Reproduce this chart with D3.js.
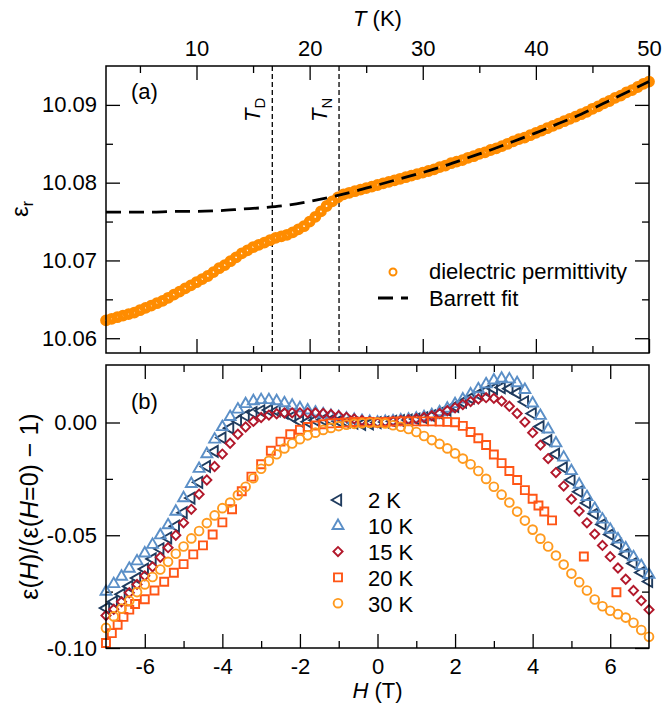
<!DOCTYPE html>
<html>
<head>
<meta charset="utf-8">
<script src="https://cdn.jsdelivr.net/npm/d3@7"></script>
<style>
  html, body { margin: 0; padding: 0; background: #fff; }
  svg { display: block; font-family: "Liberation Sans", Arial, Helvetica, sans-serif; }
</style>
</head>
<body>
<svg id="fig" width="662" height="704"></svg>
<script>
// ---------- (a) permittivity vs temperature ----------
const tempK = [
  2.0, 2.5, 3.0, 3.5, 4.0, 4.5, 5.0, 5.5, 6.0, 6.5,
  7.0, 7.5, 8.0, 8.5, 9.0, 9.5, 10.0, 10.5, 11.0, 11.5,
  12.0, 12.5, 13.0, 13.5, 14.0, 14.5, 15.0, 15.5, 16.0, 16.5,
  17.0, 17.5, 18.0, 18.5, 19.0, 19.5, 20.0, 20.5, 21.0, 21.5,
  22.0, 22.5, 23.0, 23.5, 24.0, 24.5, 25.0, 25.5, 26.0, 26.5,
  27.0, 27.5, 28.0, 28.5, 29.0, 29.5, 30.0, 30.5, 31.0, 31.5,
  32.0, 32.5, 33.0, 33.5, 34.0, 34.5, 35.0, 35.5, 36.0, 36.5,
  37.0, 37.5, 38.0, 38.5, 39.0, 39.5, 40.0, 40.5, 41.0, 41.5,
  42.0, 42.5, 43.0, 43.5, 44.0, 44.5, 45.0, 45.5, 46.0, 46.5,
  47.0, 47.5, 48.0, 48.5, 49.0, 49.5, 50.0
];
const permittivity = [
  10.0623, 10.0625, 10.0627, 10.0629, 10.0631, 10.0633, 10.0636, 10.0639, 10.0642, 10.0645,
  10.0648, 10.0652, 10.0656, 10.0660, 10.0664, 10.0668, 10.0672, 10.0676, 10.0680, 10.0685,
  10.0690, 10.0694, 10.0699, 10.0704, 10.0709, 10.0713, 10.0717, 10.0720, 10.0723, 10.0726,
  10.0729, 10.0731, 10.0733, 10.0736, 10.0740, 10.0744, 10.0750, 10.0756, 10.0763, 10.0770,
  10.0776, 10.0781, 10.0785, 10.0787, 10.0789, 10.0791, 10.0793, 10.0795, 10.0797, 10.0799,
  10.0801, 10.0803, 10.0805, 10.0807, 10.0809, 10.0811, 10.0813, 10.0815, 10.0817, 10.0820,
  10.0822, 10.0825, 10.0827, 10.0829, 10.0832, 10.0834, 10.0837, 10.0839, 10.0842, 10.0844,
  10.0847, 10.0850, 10.0853, 10.0856, 10.0858, 10.0861, 10.0864, 10.0867, 10.0870, 10.0873,
  10.0876, 10.0879, 10.0882, 10.0885, 10.0888, 10.0891, 10.0895, 10.0898, 10.0902, 10.0905,
  10.0909, 10.0912, 10.0916, 10.0919, 10.0923, 10.0927, 10.0930
];
// Barrett fit curve
const fitT = [2, 4, 6, 8, 10, 12, 14, 16, 18, 20, 22, 24, 26, 28, 30, 32, 34, 36, 38, 40, 42, 44, 46, 48, 50];
const fitEps = [
  10.0762, 10.0762, 10.0762, 10.0763, 10.0763, 10.0764, 10.0766, 10.0768, 10.0771, 10.0776,
  10.0782, 10.0789, 10.0797, 10.0805, 10.0813, 10.0822, 10.0832, 10.0842, 10.0853, 10.0864,
  10.0876, 10.0888, 10.0902, 10.0916, 10.0930
];
const transitions = [{ name: "D", T: 16.7 }, { name: "N", T: 22.6 }];
const tTicks = [10, 20, 30, 40, 50];
const tMinorTicks = [5, 15, 25, 35, 45];
const epsTicks = [10.06, 10.07, 10.08, 10.09];
const epsTickLabels = ["10.06", "10.07", "10.08", "10.09"];
const epsMinorTicks = [10.065, 10.075, 10.085];

// ---------- (b) normalised permittivity vs field ----------
const fieldT = [
  -7.0, -6.8, -6.6, -6.4, -6.2, -6.0, -5.8, -5.6, -5.4, -5.2,
  -5.0, -4.8, -4.6, -4.4, -4.2, -4.0, -3.8, -3.6, -3.4, -3.2,
  -3.0, -2.8, -2.6, -2.4, -2.2, -2.0, -1.8, -1.6, -1.4, -1.2,
  -1.0, -0.8, -0.6, -0.4, -0.2, 0.0,
  0.2, 0.4, 0.6, 0.8, 1.0, 1.2, 1.4, 1.6, 1.8, 2.0,
  2.2, 2.4, 2.6, 2.8, 3.0, 3.2, 3.4, 3.6, 3.8, 4.0,
  4.2, 4.4, 4.6, 4.8, 5.0, 5.2, 5.4, 5.6, 5.8, 6.0,
  6.2, 6.4, 6.6, 6.8, 7.0
];
const ratio2K = [
  -0.0823, -0.0795, -0.0762, -0.0727, -0.0690, -0.0650, -0.0605, -0.0560, -0.0512, -0.0460,
  -0.0400, -0.0335, -0.0265, -0.0195, -0.0128, -0.0068, -0.0025, 0.0008, 0.0030, 0.0044,
  0.0052, 0.0055, 0.0052, 0.0042, 0.0025, 0.0005, 0.0003, 0.0010, 0.0012, 0.0010,
  0.0006, 0.0002, -0.0003, -0.0008, -0.0006, 0.0000,
  0.0002, 0.0005, 0.0008, 0.0011, 0.0015, 0.0021, 0.0029, 0.0040, 0.0055, 0.0072,
  0.0090, 0.0108, 0.0125, 0.0140, 0.0150, 0.0155, 0.0150, 0.0130, 0.0092, 0.0040,
  -0.0018, -0.0080, -0.0140, -0.0200, -0.0255, -0.0307, -0.0357, -0.0405, -0.0452, -0.0497,
  -0.0540, -0.0584, -0.0625, -0.0665, -0.0705
];
const ratio10K = [
  -0.0750, -0.0716, -0.0683, -0.0648, -0.0615, -0.0580, -0.0542, -0.0500, -0.0455, -0.0395,
  -0.0335, -0.0272, -0.0205, -0.0140, -0.0075, -0.0020, 0.0025, 0.0058, 0.0082, 0.0095,
  0.0100, 0.0100, 0.0095, 0.0086, 0.0075, 0.0064, 0.0054, 0.0045, 0.0037, 0.0030,
  0.0024, 0.0018, 0.0012, 0.0007, 0.0003, 0.0000,
  0.0003, 0.0006, 0.0010, 0.0013, 0.0018, 0.0024, 0.0033, 0.0046, 0.0062, 0.0082,
  0.0103, 0.0125, 0.0148, 0.0170, 0.0187, 0.0195, 0.0192, 0.0175, 0.0145, 0.0085,
  0.0030, -0.0030, -0.0092, -0.0155, -0.0215, -0.0275, -0.0330, -0.0382, -0.0430, -0.0475,
  -0.0518, -0.0558, -0.0597, -0.0636, -0.0675
];
const ratio15K = [
  -0.0856, -0.0828, -0.0795, -0.0755, -0.0718, -0.0680, -0.0640, -0.0598, -0.0555, -0.0500,
  -0.0445, -0.0385, -0.0318, -0.0255, -0.0195, -0.0140, -0.0092, -0.0052, -0.0020, 0.0005,
  0.0022, 0.0033, 0.0039, 0.0042, 0.0043, 0.0043, 0.0043, 0.0042, 0.0040, 0.0036,
  0.0030, 0.0023, 0.0016, 0.0009, 0.0004, 0.0000,
  0.0003, 0.0006, 0.0009, 0.0013, 0.0017, 0.0022, 0.0030, 0.0040, 0.0052, 0.0065,
  0.0080, 0.0093, 0.0104, 0.0110, 0.0107, 0.0095, 0.0072, 0.0040, 0.0002, -0.0045,
  -0.0100, -0.0160, -0.0222, -0.0282, -0.0340, -0.0393, -0.0445, -0.0495, -0.0545, -0.0595,
  -0.0645, -0.0695, -0.0745, -0.0790, -0.0830
];
const field20K = [
  -7.0, -6.85, -6.7, -6.55, -6.4, -6.25,
  -6.0, -5.75, -5.5, -5.25, -5.0, -4.75, -4.5, -4.25, -4.0, -3.75, -3.5, -3.25, -3.0, -2.75, -2.5, -2.25, -2.0,
  -1.8, -1.6, -1.4, -1.2, -1.0, -0.8, -0.6, -0.4, -0.2, 0.0,
  0.2, 0.4, 0.6, 0.8, 1.0, 1.2, 1.4, 1.6, 1.8, 2.0,
  2.2, 2.4, 2.6, 2.8, 3.0, 3.2, 3.4, 3.6, 3.8, 4.0,
  4.15, 4.3, 4.5, 5.32, 6.16
];
const ratio20K = [
  -0.0978, -0.0934, -0.0897, -0.0862, -0.0830, -0.0805,
  -0.0784, -0.0745, -0.0706, -0.0666, -0.0628, -0.0585, -0.0545, -0.0497, -0.0443, -0.0385, -0.0305, -0.0240, -0.0185, -0.0125, -0.0085, -0.0052, -0.0032,
  -0.0020, -0.0013, -0.0008, -0.0004, -0.0002, 0.0000, 0.0002, 0.0003, 0.0002, 0.0000,
  0.0002, 0.0004, 0.0005, 0.0005, 0.0005, 0.0005, 0.0005, 0.0004, 0.0003, 0.0001,
  -0.0015, -0.0042, -0.0070, -0.0100, -0.0142, -0.0180, -0.0215, -0.0255, -0.0300, -0.0338,
  -0.0368, -0.0395, -0.0434, -0.0594, -0.0753
];
const ratio30K = [
  -0.0911, -0.0860, -0.0825, -0.0790, -0.0752, -0.0718, -0.0685, -0.0652, -0.0618, -0.0582,
  -0.0550, -0.0514, -0.0481, -0.0446, -0.0412, -0.0380, -0.0355, -0.0322, -0.0285, -0.0247,
  -0.0205, -0.0170, -0.0141, -0.0115, -0.0093, -0.0074, -0.0057, -0.0045, -0.0033, -0.0024,
  -0.0016, -0.0010, -0.0006, -0.0003, -0.0001, 0.0000,
  -0.0004, -0.0012, -0.0019, -0.0029, -0.0042, -0.0060, -0.0078, -0.0095, -0.0115, -0.0137,
  -0.0160, -0.0185, -0.0215, -0.0250, -0.0285, -0.0320, -0.0355, -0.0395, -0.0435, -0.0475,
  -0.0515, -0.0550, -0.0590, -0.0630, -0.0670, -0.0708, -0.0745, -0.0785, -0.0815, -0.0835,
  -0.0850, -0.0865, -0.0888, -0.0920, -0.0950
];
const seriesLabels = ["2 K", "10 K", "15 K", "20 K", "30 K"];
const hTicks = [-6, -4, -2, 0, 2, 4, 6];
const hTickLabels = ["-6", "-4", "-2", "0", "2", "4", "6"];
const hMinorTicks = [-5, -3, -1, 1, 3, 5];
const ratioTicks = [-0.10, -0.05, 0.00];
const ratioTickLabels = ["-0.10", "-0.05", "0.00"];
const ratioMinorTicks = [-0.075, -0.025];

// ---------- layout ----------
const svg = d3.select("#fig");
const xL = 106, xR = 649;
const topA = 66, botA = 353, topB = 365, botB = 648;
const FS = 22;
const MAJ = 14, MIN = 7;

const xT = d3.scaleLinear().domain([2, 50]).range([xL, xR]);
const yA = d3.scaleLinear().domain([10.0581, 10.0950]).range([botA, topA]);
const xH = d3.scaleLinear().domain([-7, 7]).range([xL, xR]);
const yB = d3.scaleLinear().domain([-0.10, 0.0255]).range([botB, topB]);

function styleAxis(g) {
  g.select(".domain").remove();
  g.attr("font-family", null).attr("font-size", null);
  g.selectAll(".tick line").attr("stroke", "#000").attr("stroke-width", 1.3);
  g.selectAll(".tick text").attr("fill", "#000").attr("font-size", FS);
  return g;
}
function addAxis(axis, tx, ty) {
  return styleAxis(svg.append("g").attr("transform", `translate(${tx},${ty})`).call(axis));
}
function labelFmt(values, labels) {
  return d => labels[values.indexOf(d)];
}

// ---------- panel (a) axes ----------
addAxis(d3.axisTop(xT).tickValues(tTicks).tickSize(-MAJ).tickPadding(10), 0, topA);
addAxis(d3.axisTop(xT).tickValues(tMinorTicks).tickSize(-MIN).tickFormat(""), 0, topA);
addAxis(d3.axisBottom(xT).tickValues(tTicks).tickSize(-MAJ).tickFormat(""), 0, botA);
addAxis(d3.axisBottom(xT).tickValues(tMinorTicks).tickSize(-MIN).tickFormat(""), 0, botA);
addAxis(d3.axisLeft(yA).tickValues(epsTicks).tickSize(-MAJ).tickPadding(9)
  .tickFormat(labelFmt(epsTicks, epsTickLabels)), xL, 0);
addAxis(d3.axisLeft(yA).tickValues(epsMinorTicks).tickSize(-MIN).tickFormat(""), xL, 0);
addAxis(d3.axisRight(yA).tickValues(epsTicks).tickSize(-MAJ).tickFormat(""), xR, 0);
addAxis(d3.axisRight(yA).tickValues(epsMinorTicks).tickSize(-MIN).tickFormat(""), xR, 0);

// transition markers
transitions.forEach(tr => {
  svg.append("line")
    .attr("x1", xT(tr.T)).attr("x2", xT(tr.T))
    .attr("y1", topA).attr("y2", botA)
    .attr("stroke", "#000").attr("stroke-width", 1.3)
    .attr("stroke-dasharray", "5,3");
  const lab = svg.append("text")
    .attr("transform", `translate(${xT(tr.T) - 12},122) rotate(-90)`)
    .attr("font-size", FS);
  lab.append("tspan").attr("font-style", "italic").text("T");
  lab.append("tspan").attr("font-size", 15).attr("dy", 5).text(tr.name);
});

// permittivity points (dense open circles merging into a band)
const orange = "#ff8c00";
svg.append("g").selectAll("circle")
  .data(tempK.map((t, i) => [t, permittivity[i]]))
  .join("circle")
  .attr("cx", d => xT(d[0])).attr("cy", d => yA(d[1]))
  .attr("r", 3.4)
  .attr("fill", "none").attr("stroke", orange).attr("stroke-width", 5);

// Barrett fit
svg.append("path")
  .datum(fitT.map((t, i) => [t, fitEps[i]]))
  .attr("d", d3.line().x(d => xT(d[0])).y(d => yA(d[1])).curve(d3.curveMonotoneX))
  .attr("fill", "none").attr("stroke", "#000").attr("stroke-width", 2.8)
  .attr("stroke-dasharray", "15,8");

// frame (a)
svg.append("rect").attr("x", xL).attr("y", topA).attr("width", xR - xL).attr("height", botA - topA)
  .attr("fill", "none").attr("stroke", "#000").attr("stroke-width", 1.5);

svg.append("text").attr("x", 131).attr("y", 99).attr("font-size", FS).text("(a)");

// legend (a)
svg.append("circle").attr("cx", 393).attr("cy", 272).attr("r", 3.5)
  .attr("fill", "none").attr("stroke", orange).attr("stroke-width", 2);
svg.append("text").attr("x", 429).attr("y", 279).attr("font-size", FS).text("dielectric permittivity");
svg.append("line").attr("x1", 378).attr("x2", 408).attr("y1", 298).attr("y2", 298)
  .attr("stroke", "#000").attr("stroke-width", 2.8).attr("stroke-dasharray", "15,8");
svg.append("text").attr("x", 429).attr("y", 306).attr("font-size", FS).text("Barrett fit");

// axis titles (a)
const tTitle = svg.append("text").attr("x", (xL + xR) / 2).attr("y", 26)
  .attr("text-anchor", "middle").attr("font-size", FS);
tTitle.append("tspan").attr("font-style", "italic").text("T");
tTitle.append("tspan").text(" (K)");

const epsTitle = svg.append("text").attr("transform", "translate(28,209) rotate(-90)")
  .attr("text-anchor", "middle").attr("font-size", 24);
epsTitle.append("tspan").text("ε");
epsTitle.append("tspan").attr("font-size", 16).attr("dy", 5).text("r");

// ---------- panel (b) axes ----------
addAxis(d3.axisBottom(xH).tickValues(hTicks).tickSize(-MAJ).tickPadding(10)
  .tickFormat(labelFmt(hTicks, hTickLabels)), 0, botB);
addAxis(d3.axisBottom(xH).tickValues(hMinorTicks).tickSize(-MIN).tickFormat(""), 0, botB);
addAxis(d3.axisTop(xH).tickValues(hTicks).tickSize(-MAJ).tickFormat(""), 0, topB);
addAxis(d3.axisTop(xH).tickValues(hMinorTicks).tickSize(-MIN).tickFormat(""), 0, topB);
addAxis(d3.axisLeft(yB).tickValues(ratioTicks).tickSize(-MAJ).tickPadding(9)
  .tickFormat(labelFmt(ratioTicks, ratioTickLabels)), xL, 0);
addAxis(d3.axisLeft(yB).tickValues(ratioMinorTicks).tickSize(-MIN).tickFormat(""), xL, 0);
addAxis(d3.axisRight(yB).tickValues(ratioTicks).tickSize(-MAJ).tickFormat(""), xR, 0);
addAxis(d3.axisRight(yB).tickValues(ratioMinorTicks).tickSize(-MIN).tickFormat(""), xR, 0);

// field sweeps
const series = [
  { label: seriesLabels[0], h: fieldT, v: ratio2K, color: "#1f3b5e", type: d3.symbolTriangle, size: 52, rot: -90 },
  { label: seriesLabels[1], h: fieldT, v: ratio10K, color: "#5b8fc7", type: d3.symbolTriangle, size: 52, rot: 0 },
  { label: seriesLabels[2], h: fieldT, v: ratio15K, color: "#b2182b", type: d3.symbolSquare, size: 42, rot: 45 },
  { label: seriesLabels[3], h: field20K, v: ratio20K, color: "#ff5515", type: d3.symbolSquare, size: 64, rot: 0 },
  { label: seriesLabels[4], h: fieldT, v: ratio30K, color: "#ff9a1e", type: d3.symbolCircle, size: 60, rot: 0 }
];

series.forEach(s => {
  const path = d3.symbol().type(s.type).size(s.size)();
  svg.append("g").selectAll("path")
    .data(s.h.map((h, i) => [h, s.v[i]]))
    .join("path")
    .attr("d", path)
    .attr("transform", d => `translate(${xH(d[0])},${yB(d[1])}) rotate(${s.rot})`)
    .attr("fill", "none").attr("stroke", s.color).attr("stroke-width", 1.9);
});

// legend (b)
series.forEach((s, i) => {
  const y = 500 + i * 25.8;
  svg.append("path")
    .attr("d", d3.symbol().type(s.type).size(s.size)())
    .attr("transform", `translate(338,${y}) rotate(${s.rot})`)
    .attr("fill", "none").attr("stroke", s.color).attr("stroke-width", 1.9);
  svg.append("text").attr("x", 368).attr("y", y + 8.3).attr("font-size", FS).text(s.label);
});

// frame (b)
svg.append("rect").attr("x", xL).attr("y", topB).attr("width", xR - xL).attr("height", botB - topB)
  .attr("fill", "none").attr("stroke", "#000").attr("stroke-width", 1.5);

svg.append("text").attr("x", 131).attr("y", 409).attr("font-size", FS).text("(b)");

// axis titles (b)
const hTitle = svg.append("text").attr("x", (xL + xR) / 2).attr("y", 698)
  .attr("text-anchor", "middle").attr("font-size", FS);
hTitle.append("tspan").attr("font-style", "italic").text("H");
hTitle.append("tspan").text(" (T)");

const rTitle = svg.append("text").attr("transform", `translate(38,${(topB + botB) / 2}) rotate(-90)`)
  .attr("text-anchor", "middle").attr("font-size", 25);
rTitle.append("tspan").text("ε(");
rTitle.append("tspan").attr("font-style", "italic").text("H");
rTitle.append("tspan").text(")/(ε(");
rTitle.append("tspan").attr("font-style", "italic").text("H");
rTitle.append("tspan").text("=0) − 1)");
</script>
</body>
</html>
